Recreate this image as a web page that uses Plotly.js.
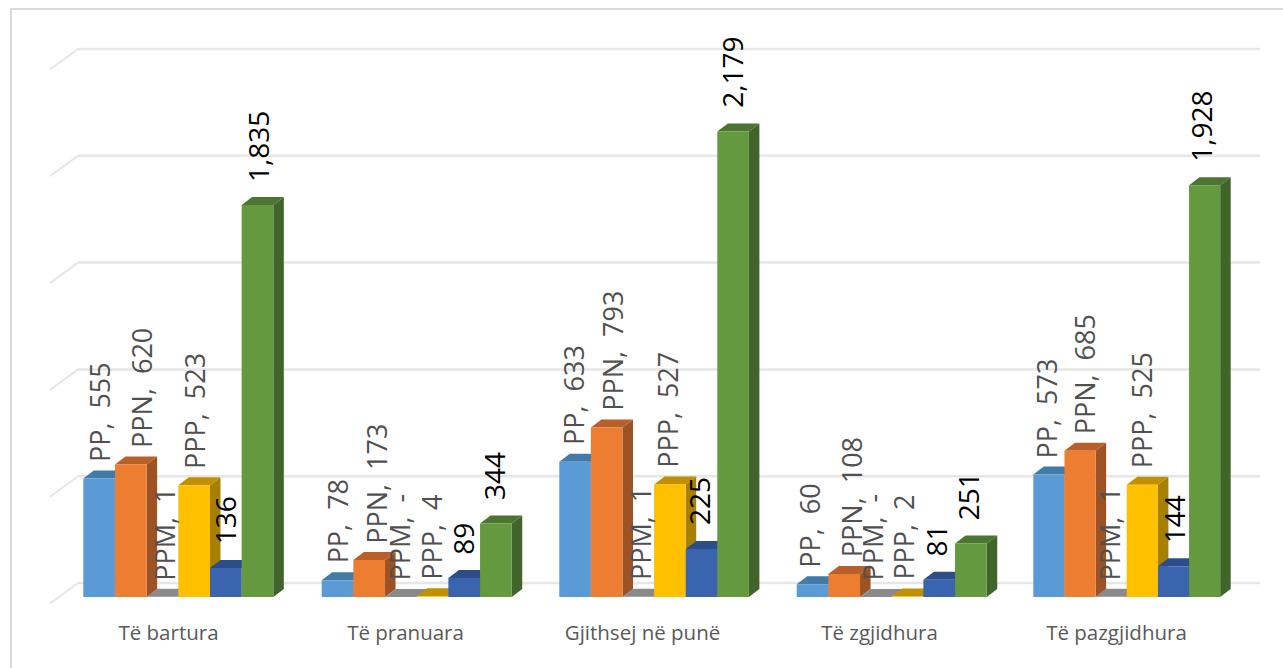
<!DOCTYPE html>
<html>
<head>
<meta charset="utf-8">
<script src="https://cdn.plot.ly/plotly-3.0.1.min.js"></script>
<style>html,body{margin:0;padding:0;background:#fff;overflow:hidden}#c{width:1283px;height:668px}</style>
</head>
<body>
<div id="c"></div>
<script>
const categories = ["Të bartura", "Të pranuara", "Gjithsej në punë", "Të zgjidhura", "Të pazgjidhura"];
const seriesNames = ["PP", "PPN", "PPM", "PPP", "", ""];
const PP  = [555, 78, 633, 60, 573];
const PPN = [620, 173, 793, 108, 685];
const PPM = [1, 0, 1, 0, 1];
const PPP = [523, 4, 527, 2, 525];
const S5  = [136, 89, 225, 81, 144];
const S6  = [1835, 344, 2179, 251, 1928];
const gridValues = [0, 500, 1000, 1500, 2000, 2500];

const allSeries = [PP, PPN, PPM, PPP, S5, S6];
const front = ["#5B9BD5", "#ED7D31", "#A5A5A5", "#FFC000", "#3A64AE", "#64993F"];
const cap   = ["#437BA8", "#B9602A", "#8A8A8A", "#C09000", "#2C4E88", "#4B7530"];
const side  = ["#3E6F9A", "#9C5222", "#7A7A7A", "#A88000", "#274478", "#40642A"];

// pixel calibration of the scales and the hand-placed look of the source
const pxPerCat = 237, pxPerUnit = 0.2136;
const plotL = 50, plotR = 1262, plotT = 10, plotB = 610, zeroPx = 597, firstCatPx = 168.5;
const groupLeftPx = [83.3, 321.7, 559.3, 796.7, 1033.3];
const barWidthPx  = [31.67, 31.67, 31.6, 31.67, 31.15];
const labelDxPx = [
  [1, 0, -1.5, -2.5, -2.5],
  [10, 7, 5, 7.5, 4],
  [2.5, -1, 2, -3, -1.5],
  [1, -1, -2, -3.5, -0.5],
  [0, -1, -2, -3, 0],
  [0.5, -2, -2, -3.5, -3]
];
const xr = [(plotL - firstCatPx) / pxPerCat, (plotR - firstCatPx) / pxPerCat];
const yr = [-(plotB - zeroPx) / pxPerUnit, (zeroPx - plotT) / pxPerUnit];
const barW = barWidthPx.map(w => w / pxPerCat);
const groupOff = groupLeftPx.map((p, k) => (p - firstCatPx - k * pxPerCat) / pxPerCat);
const dX = 10.5 / pxPerCat, dY = 8 / pxPerUnit;
const wallX = (78 - firstCatPx) / pxPerCat, wallEnd = (1260 - firstCatPx) / pxPerCat;
const wallY = 14 / pxPerUnit, stubY = -6.5 / pxPerUnit;

const poly = (pts) => "M" + pts.map(p => p[0] + "," + p[1]).join("L") + "Z";
const shapes = [];
// chart frame (left + top only)
const fx = (px) => (px - plotL) / (plotR - plotL), fy = (px) => (plotB - px) / (plotB - plotT);
shapes.push({type:"line", xref:"paper", yref:"paper", x0:fx(11), x1:fx(11), y0:fy(668), y1:fy(9), line:{color:"#d9d9d9", width:2}, layer:"below"});
shapes.push({type:"line", xref:"paper", yref:"paper", x0:fx(10), x1:fx(1283), y0:fy(9), y1:fy(9), line:{color:"#d9d9d9", width:2}, layer:"below"});
// back wall gridlines with the slanted floor stub
gridValues.forEach(v => {
  shapes.push({type:"line", xref:"x", yref:"y", x0:wallX, x1:wallEnd, y0:v+wallY, y1:v+wallY, line:{color:"#e6e6e6", width:2.5}, layer:"below"});
  shapes.push({type:"line", xref:"x", yref:"y", x0:xr[0], x1:wallX, y0:v+stubY, y1:v+wallY, line:{color:"#e6e6e6", width:2}, layer:"below"});
});
// depth faces, left to right so each one overlaps the previous one
categories.forEach((c, k) => {
  allSeries.forEach((s, i) => {
    const x0 = k + groupOff[k] + i * barW[k], x1 = x0 + barW[k], v = s[k];
    shapes.push({type:"path", xref:"x", yref:"y", layer:"below", line:{width:0}, fillcolor:side[i],
      path: poly([[x1,0],[x1+dX,dY],[x1+dX,v+dY],[x1,v]])});
    shapes.push({type:"path", xref:"x", yref:"y", layer:"below", line:{width:0}, fillcolor:cap[i],
      path: poly([[x0,v],[x0+dX,v+dY],[x1+dX,v+dY],[x1,v]])});
  });
});

const xIdx = categories.map((c, k) => k);
const traces = allSeries.map((s, i) => ({
  type:"bar", name: seriesNames[i] || ("Seria " + (i+1)), x:xIdx, y:s,
  width:barW, offset:groupOff.map((g, k) => g + i*barW[k]), marker:{color:front[i], line:{width:0}},
  hoverinfo:"skip", showlegend:false
}));

const fmt = (v) => v === 0 ? "-" : v.toLocaleString("en-US");
const annotations = [];
allSeries.forEach((s, i) => {
  s.forEach((v, k) => {
    const named = seriesNames[i] !== "";
    annotations.push({
      x:k + groupOff[k] + (i+0.5)*barW[k], y:v, xref:"x", yref:"y", showarrow:false,
      text: named ? seriesNames[i] + ",  " + fmt(v) : fmt(v),
      textangle:-90, xanchor:"center", yanchor:"bottom",
      yshift: named ? 14.5 : 21.5, xshift: labelDxPx[i][k],
      font:{family:"Open Sans, sans-serif", size:named ? 27 : 28, color:named ? "#505050" : "#000000"}
    });
  });
});

const layout = {
  width:1283, height:668, paper_bgcolor:"#fff", plot_bgcolor:"rgba(0,0,0,0)",
  margin:{l:plotL, r:1283-plotR, t:plotT, b:668-plotB, pad:0},
  barmode:"overlay", showlegend:false,
  xaxis:{type:"linear", range:xr, tickmode:"array", tickvals:xIdx, ticktext:categories,
         showgrid:false, zeroline:false, showline:false, ticks:"outside", ticklen:4, tickcolor:"rgba(0,0,0,0)",
         tickfont:{family:"Open Sans, sans-serif", size:20.5, color:"#595959"}},
  yaxis:{range:yr, showgrid:false, zeroline:false, showline:false, showticklabels:false, ticks:""},
  shapes, annotations
};
Plotly.newPlot("c", traces, layout, {displayModeBar:false, staticPlot:true});
</script>
</body>
</html>
